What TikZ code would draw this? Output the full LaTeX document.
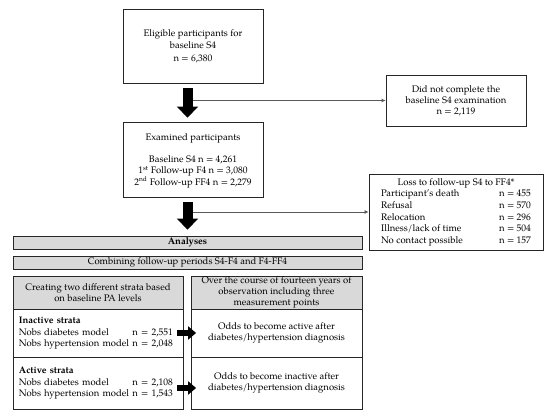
\documentclass[tikz,border=0pt]{standalone}
\usepackage{fontspec}
\setmainfont{TeX Gyre Pagella}
\usetikzlibrary{arrows.meta}
\definecolor{barfill}{HTML}{D9D9D9}
\begin{document}
\begin{tikzpicture}[x=1pt,y=-1pt,
  box/.style={draw=black!85, line width=0.8pt, inner sep=0pt, align=center,
    font=\fontsize{9.5}{11.5}\selectfont},
  graybox/.style={box, fill=barfill},
  bigarrow/.style={line width=10pt, -{Triangle[width=21pt,length=11pt]}},
  midarrow/.style={line width=6pt, -{Triangle[width=13pt,length=8pt]}},
  sidelink/.style={draw=black!65, line width=0.9pt, -{Latex[length=4pt,width=4pt]}}
]
\useasboundingbox (0,0) rectangle (550,419);

\node[box, minimum width=140pt, minimum height=74pt, font=\fontsize{9.5}{12.5}\selectfont] (elig) at (193,46)
  {Eligible participants for\\baseline S4\\n = 6,380};
\node[box, minimum width=140pt, minimum height=75pt] (exam) at (193,159.5)
  {\rule{0pt}{10pt}Examined participants\\[10pt]Baseline S4 n = 4,261\\1\textsuperscript{st} Follow-up F4 n = 3,080\\2\textsuperscript{nd} Follow-up FF4 n = 2,279};
\node[box, minimum width=140pt, minimum height=51pt, font=\fontsize{9.5}{11}\selectfont] (dnc) at (456,100.5)
  {Did not complete the\\baseline S4 examination\\n = 2,119};
\node[box, minimum width=174pt, minimum height=76pt, font=\fontsize{9.5}{11.7}\selectfont] (loss) at (456,212)
  {\begin{tabular}{@{}p{118pt}@{}l@{}}
   \multicolumn{2}{@{}c@{}}{Loss to follow-up S4 to FF4*}\\
   Participant's death & n = 455\\
   Refusal & n = 570\\
   Relocation & n = 296\\
   Illness/lack of time & n = 504\\
   No contact possible & n = 157
   \end{tabular}};

\node[graybox, minimum width=349pt, minimum height=13pt] (ana) at (187.5,242.5)
  {\textbf{Analyses}};
\node[graybox, minimum width=349pt, minimum height=13pt] (comb) at (187.5,262.5)
  {Combining follow-up periods S4-F4 and F4-FF4};

\node[graybox, minimum width=170pt, minimum height=33pt] (lh) at (98,292.5)
  {Creating two different strata based\\on baseline PA levels};
\node[graybox, minimum width=171pt, minimum height=33pt, font=\fontsize{9.5}{11}\selectfont] (rh) at (276.5,292.5)
  {Over the course of fourteen years of\\observation including three\\measurement points};

\node[box, minimum width=170pt, minimum height=48pt, text width=158pt, align=left] (li) at (98,333)
  {\begin{tabular}{@{}p{113.5pt}@{}l@{}}
   \textbf{Inactive strata} & \\
   Nobs diabetes model & n = 2,551\\
   Nobs hypertension model & n = 2,048
   \end{tabular}};
\node[box, minimum width=170pt, minimum height=52pt, text width=158pt, align=left] (la) at (98,383)
  {\begin{tabular}{@{}p{113.5pt}@{}l@{}}
   \textbf{Active strata} & \\
   Nobs diabetes model & n = 2,108\\
   Nobs hypertension model & n = 1,543
   \end{tabular}};
\node[box, minimum width=171pt, minimum height=48pt] (ri) at (276.5,333)
  {Odds to become active after\\diabetes/hypertension diagnosis};
\node[box, minimum width=171pt, minimum height=52pt] (ra) at (276.5,383)
  {Odds to become inactive after\\diabetes/hypertension diagnosis};

% side connectors
\draw[sidelink] (dnc.west -| ana.north) -- (dnc.west);
\draw[sidelink] (loss.west -| ana.north) -- (loss.west);

% big arrows
\draw[bigarrow, shorten <=5pt, shorten >=4pt] (elig.south -| ana.north) -- (exam.north -| ana.north);
\draw[bigarrow, shorten <=5pt, shorten >=6pt] (exam.south -| ana.north) -- (ana.north);

% middle arrows
\draw[midarrow, shorten <=-6pt, shorten >=-5.5pt] (li.east) -- (ri.west);
\draw[midarrow, shorten <=-6pt, shorten >=-5.5pt] ([yshift=-5pt]la.east) -- ([yshift=-5pt]ra.west);
\end{tikzpicture}
\end{document}
